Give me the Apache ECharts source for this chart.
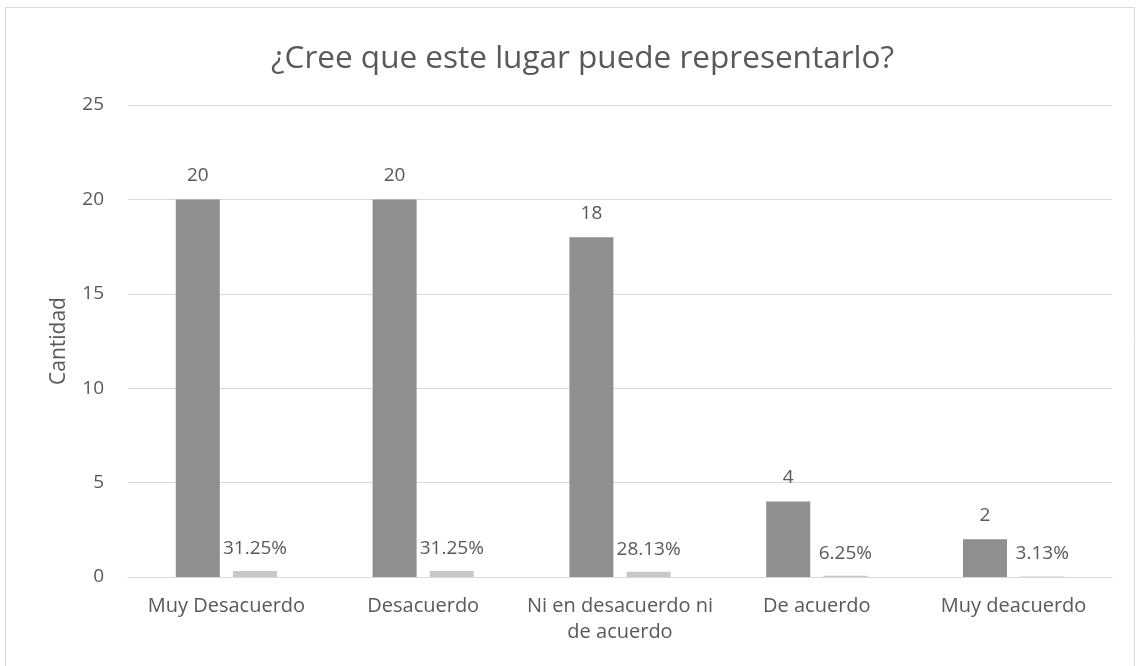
<!DOCTYPE html>
<html>
<head>
<meta charset="utf-8">
<script src="https://cdn.jsdelivr.net/npm/echarts@6/dist/echarts.min.js"></script>
<style>
  html, body { margin: 0; padding: 0; background: #fff; }
  #chart { width: 1139px; height: 666px; }
</style>
</head>
<body>
<div id="chart"></div>
<script>
const categories = ['Muy Desacuerdo', 'Desacuerdo', 'Ni en desacuerdo ni\nde acuerdo', 'De acuerdo', 'Muy deacuerdo'];
const cantidad = [20, 20, 18, 4, 2];
const porcentaje = [0.3125, 0.3125, 0.2813, 0.0625, 0.0313];
const yTicks = [0, 5, 10, 15, 20, 25];

const font = '"Open Sans", "Liberation Sans", sans-serif';
const textColor = '#595959';

const myChart = echarts.init(document.getElementById('chart'));
const option = {
  animation: false,
  textStyle: { fontFamily: font },
  graphic: [
    {
      type: 'rect',
      shape: { x: 5.5, y: 7.5, width: 1129, height: 700 },
      style: { fill: 'none', stroke: '#d9d9d9', lineWidth: 1 },
      silent: true
    }
  ],
  title: {
    text: '¿Cree que este lugar puede representarlo?',
    left: 266,
    top: 38,
    textStyle: { fontFamily: font, fontSize: 31.5, fontWeight: 'normal', color: textColor }
  },
  grid: { left: 128, right: 27, top: 105, bottom: 89 },
  xAxis: {
    type: 'category',
    data: categories,
    axisLine: { lineStyle: { color: '#d9d9d9', width: 1 } },
    axisTick: { show: false },
    axisLabel: { color: textColor, fontSize: 20, margin: 16, lineHeight: 26, interval: 0 }
  },
  yAxis: {
    type: 'value',
    min: yTicks[0],
    max: yTicks[yTicks.length - 1],
    interval: 5,
    name: 'Cantidad',
    nameLocation: 'middle',
    nameGap: 58,
    nameTextStyle: { color: textColor, fontSize: 21 },
    axisLine: { show: false },
    axisTick: { show: false },
    axisLabel: { color: textColor, fontSize: 19, margin: 24 },
    splitLine: { lineStyle: { color: '#d9d9d9', width: 1 } }
  },
  series: [
    {
      name: 'Cantidad',
      type: 'bar',
      data: cantidad,
      barWidth: 44,
      barGap: '30%',
      itemStyle: { color: '#8f8f8f' },
      label: { show: true, position: 'top', distance: 14, color: textColor, fontSize: 19 }
    },
    {
      name: 'Porcentaje',
      type: 'bar',
      data: porcentaje,
      barWidth: 44,
      itemStyle: { color: '#c8c8c8' },
      label: {
        show: true, position: 'top', distance: 13, color: textColor, fontSize: 19,
        formatter: p => (p.value * 100).toFixed(2) + '%'
      }
    }
  ]
};
myChart.setOption(option);
</script>
</body>
</html>
